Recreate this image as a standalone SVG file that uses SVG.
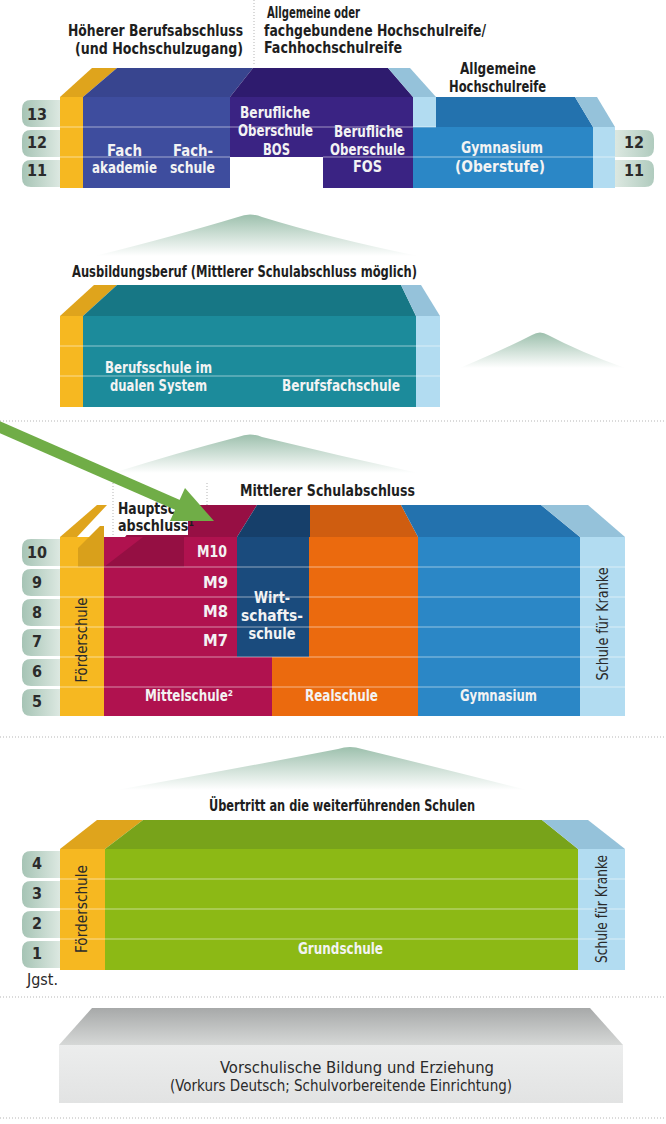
<svg xmlns="http://www.w3.org/2000/svg" width="666" height="1124" viewBox="0 0 666 1124">
<defs>
<linearGradient id="bl" x1="0" x2="1" y1="0" y2="0"><stop offset="0" stop-color="#a6c4b5"/><stop offset="1" stop-color="#dce8e1"/></linearGradient>
<linearGradient id="br" x1="0" x2="1" y1="0" y2="0"><stop offset="0" stop-color="#dce8e1"/><stop offset="1" stop-color="#b0cbbe"/></linearGradient>
<linearGradient id="mt" x1="0" x2="0" y1="0" y2="1"><stop offset="0" stop-color="#9dc0ad"/><stop offset="1" stop-color="#ffffff"/></linearGradient>
<linearGradient id="gt" x1="0" x2="0" y1="0" y2="1"><stop offset="0" stop-color="#a7a9a9"/><stop offset="1" stop-color="#d6d8d7"/></linearGradient>
<linearGradient id="gf" x1="0" x2="0" y1="0" y2="1"><stop offset="0" stop-color="#eceded"/><stop offset="1" stop-color="#e2e3e3"/></linearGradient>
<style>
.t{font-family:"DejaVu Sans Condensed","DejaVu Sans","Liberation Sans",sans-serif;font-stretch:condensed;font-weight:bold;font-size:15px;fill:#1e1e1e}
.w{font-family:"DejaVu Sans Condensed","DejaVu Sans","Liberation Sans",sans-serif;font-stretch:condensed;font-weight:bold;font-size:15px;fill:#f3f3f3}
.r{font-family:"DejaVu Sans Condensed","DejaVu Sans","Liberation Sans",sans-serif;font-stretch:condensed;font-size:15px;fill:#2a2a2a}
.n{font-family:"DejaVu Sans Condensed","DejaVu Sans","Liberation Sans",sans-serif;font-stretch:condensed;font-weight:bold;font-size:16px;fill:#2b2b2b;text-anchor:middle}
.rl{stroke:#ffffff;stroke-opacity:0.35;stroke-width:1.5;fill:none}
.dot{stroke:#b5b5b5;stroke-width:1;stroke-dasharray:1 2;fill:none}
.ye{fill:#f6b821}.yt{fill:#dfa41c}
.fb{fill:#3e4d9e}.fbt{fill:#38458f}
.pu{fill:#3a2383}.put{fill:#2e1b6e}
.lb{fill:#b2dcf1}.lbt{fill:#95c2da}
.gy{fill:#2b87c6}.gyt{fill:#2372ae}
.te{fill:#1c8b9b}.tet{fill:#177785}
.cr{fill:#b0124f}.crt{fill:#970f44}
.wb{fill:#1a4b7d}.wbt{fill:#163f6a}
.or{fill:#eb6a0e}.ort{fill:#cf5d10}
.gr{fill:#8cb915}.grt{fill:#78a31a}
.bL{fill:url(#bl)}.bR{fill:url(#br)}
.m{fill:url(#mt)}
</style>
</defs>
<rect width="666" height="1124" fill="#ffffff"/>

<g id="separators">
<line class="dot" x1="254" y1="0" x2="254" y2="66"/>
<line class="dot" x1="0" y1="421" x2="666" y2="421"/>
<line class="dot" x1="0" y1="737" x2="666" y2="737"/>
<line class="dot" x1="0" y1="997" x2="666" y2="997"/>
<line class="dot" x1="0" y1="1118" x2="666" y2="1118"/>
</g>

<g id="top-titles">
<text class="t" x="68" y="36" textLength="175" lengthAdjust="spacingAndGlyphs">Höherer Berufsabschluss</text>
<text class="t" x="75" y="54" textLength="168" lengthAdjust="spacingAndGlyphs">(und Hochschulzugang)</text>
<text class="t" x="267" y="18" textLength="93" lengthAdjust="spacingAndGlyphs">Allgemeine oder</text>
<text class="t" x="264" y="36" textLength="222" lengthAdjust="spacingAndGlyphs">fachgebundene Hochschulreife/</text>
<text class="t" x="264" y="53" textLength="138" lengthAdjust="spacingAndGlyphs">Fachhochschulreife</text>
<text class="t" x="460" y="74" textLength="76" lengthAdjust="spacingAndGlyphs">Allgemeine</text>
<text class="t" x="449" y="92" textLength="97" lengthAdjust="spacingAndGlyphs">Hochschulreife</text>
</g>

<g id="sek2-block">
<polygon class="yt" points="60,97 83,97 117,68 92,68"/>
<rect class="ye" x="60" y="97" width="23" height="91"/>
<polygon class="fbt" points="83,97 230,97 253,68 117,68"/>
<rect class="fb" x="83" y="97" width="147" height="91"/>
<polygon class="put" points="230,97 413,97 388,68 253,68"/>
<rect class="pu" x="230" y="97" width="183" height="60"/>
<rect class="pu" x="323" y="157" width="90" height="31"/>
<polygon class="lbt" points="388,68 410,68 436,97 413,97"/>
<rect class="lb" x="413" y="97" width="23" height="30"/>
<polygon class="gyt" points="436,97 575,97 593,127 436,127"/>
<rect class="gy" x="413" y="127" width="180" height="61"/>
<polygon class="lbt" points="575,97 597,97 615,127 593,127"/>
<rect class="lb" x="593" y="127" width="22" height="61"/>
<line class="rl" x1="60" y1="127" x2="436" y2="127"/>
<line class="rl" x1="60" y1="157" x2="230" y2="157"/>
<line class="rl" x1="323" y1="157" x2="615" y2="157"/>
<text class="w" x="107" y="156" textLength="35" lengthAdjust="spacingAndGlyphs">Fach</text>
<text class="w" x="92" y="173" textLength="65" lengthAdjust="spacingAndGlyphs">akademie</text>
<text class="w" x="173" y="156" textLength="40" lengthAdjust="spacingAndGlyphs">Fach-</text>
<text class="w" x="170" y="173" textLength="45" lengthAdjust="spacingAndGlyphs">schule</text>
<text class="w" x="240" y="118" textLength="70" lengthAdjust="spacingAndGlyphs">Berufliche</text>
<text class="w" x="238" y="136" textLength="75" lengthAdjust="spacingAndGlyphs">Oberschule</text>
<text class="w" x="263" y="155" textLength="27" lengthAdjust="spacingAndGlyphs">BOS</text>
<text class="w" x="334" y="137" textLength="69" lengthAdjust="spacingAndGlyphs">Berufliche</text>
<text class="w" x="330" y="155" textLength="75" lengthAdjust="spacingAndGlyphs">Oberschule</text>
<text class="w" x="353" y="172" textLength="29" lengthAdjust="spacingAndGlyphs">FOS</text>
<text class="w" x="461" y="153" textLength="82" lengthAdjust="spacingAndGlyphs">Gymnasium</text>
<text class="w" x="455" y="172" textLength="90" lengthAdjust="spacingAndGlyphs">(Oberstufe)</text>
</g>

<g id="badges-top">
<path class="bL" d="M60,100 H31 Q22,100 22,109 V118 Q22,127 31,127 H60 Z"/>
<path class="bL" d="M60,130 H31 Q22,130 22,139 V148 Q22,157 31,157 H60 Z"/>
<path class="bL" d="M60,160 H31 Q22,160 22,169 V178 Q22,187 31,187 H60 Z"/>
<text class="n" x="37" y="120">13</text>
<text class="n" x="37" y="148">12</text>
<text class="n" x="37" y="176">11</text>
<path class="bR" d="M615,130 H645 Q654,130 654,139 V148 Q654,157 645,157 H615 Z"/>
<path class="bR" d="M615,160 H645 Q654,160 654,169 V178 Q654,187 645,187 H615 Z"/>
<text class="n" x="634" y="148">12</text>
<text class="n" x="634" y="176">11</text>
</g>

<g id="ausbildung">
<path class="m" d="M95,256 Q175,236 238,217 Q250,212 262,217 Q330,238 418,256 Z"/>
<text class="t" x="72" y="277" textLength="345" lengthAdjust="spacingAndGlyphs">Ausbildungsberuf (Mittlerer Schulabschluss möglich)</text>
<polygon class="yt" points="60,316 83,316 117,285 94,285"/>
<rect class="ye" x="60" y="316" width="23" height="91"/>
<polygon class="tet" points="83,316 416,316 401,285 117,285"/>
<rect class="te" x="83" y="316" width="333" height="91"/>
<polygon class="lbt" points="401,285 421,285 440,316 416,316"/>
<rect class="lb" x="416" y="316" width="24" height="91"/>
<line class="rl" x1="60" y1="346" x2="440" y2="346"/>
<line class="rl" x1="60" y1="376" x2="440" y2="376"/>
<text class="w" x="105" y="373" textLength="107" lengthAdjust="spacingAndGlyphs">Berufsschule im</text>
<text class="w" x="110" y="391" textLength="97" lengthAdjust="spacingAndGlyphs">dualen System</text>
<text class="w" x="282" y="391" textLength="118" lengthAdjust="spacingAndGlyphs">Berufsfachschule</text>
<path class="m" d="M460,368 Q505,349 532,335 Q540,330 548,335 Q580,352 625,368 Z"/>
</g>

<g id="sek1-block">
<path class="m" d="M113,473 Q180,452 238,437 Q250,432 262,437 Q340,456 418,473 Z"/>
<text class="t" x="240" y="496" textLength="175" lengthAdjust="spacingAndGlyphs">Mittlerer Schulabschluss</text>
<polygon class="yt" points="60,537 77,537 107,505 97,505"/>
<rect class="ye" x="60" y="537" width="44" height="179"/>
<polygon fill="#d9a01b" points="78,567 78,548 100,526 104,526 104,567"/>
<polygon class="crt" points="125,537 237,537 257,505 150,505"/>
<rect class="cr" x="104" y="537" width="133" height="120"/>
<rect class="cr" x="104" y="657" width="168" height="59"/>
<polygon fill="#950f43" points="104,567 143,537 184,537 184,567"/>
<polygon class="wbt" points="257,505 310,505 310,537 237,537"/>
<rect class="wb" x="237" y="537" width="72" height="120"/>
<polygon class="ort" points="310,505 401,505 418,537 310,537"/>
<polygon class="or" points="309,537 418,537 418,716 272,716 272,657 309,657"/>
<polygon class="gyt" points="401,505 541,505 580,537 418,537"/>
<rect class="gy" x="418" y="537" width="162" height="179"/>
<polygon class="lbt" points="541,505 588,505 625,537 580,537"/>
<rect class="lb" x="580" y="537" width="45" height="179"/>
<line class="rl" x1="60" y1="567" x2="625" y2="567"/>
<line class="rl" x1="60" y1="597" x2="625" y2="597"/>
<line class="rl" x1="60" y1="627" x2="625" y2="627"/>
<line class="rl" x1="60" y1="657" x2="625" y2="657"/>
<line class="rl" x1="60" y1="687" x2="625" y2="687"/>
<rect x="113" y="483" width="75" height="52" fill="#ffffff"/>
<line class="dot" x1="113" y1="483" x2="113" y2="535"/>
<line class="dot" x1="207" y1="483" x2="207" y2="505"/>
<text class="t" x="118" y="514" textLength="84" lengthAdjust="spacingAndGlyphs">Hauptschul-</text>
<text class="t" x="118" y="531" textLength="76" lengthAdjust="spacingAndGlyphs">abschluss¹</text>
<text class="w" x="197" y="557" textLength="30" lengthAdjust="spacingAndGlyphs">M10</text>
<text class="w" x="203" y="588" textLength="25" lengthAdjust="spacingAndGlyphs">M9</text>
<text class="w" x="203" y="617" textLength="25" lengthAdjust="spacingAndGlyphs">M8</text>
<text class="w" x="203" y="646" textLength="25" lengthAdjust="spacingAndGlyphs">M7</text>
<text class="w" x="272" y="603" text-anchor="middle" textLength="36" lengthAdjust="spacingAndGlyphs">Wirt-</text>
<text class="w" x="272" y="621" text-anchor="middle" textLength="62" lengthAdjust="spacingAndGlyphs">schafts-</text>
<text class="w" x="272" y="639" text-anchor="middle" textLength="47" lengthAdjust="spacingAndGlyphs">schule</text>
<text class="w" x="145" y="701" textLength="88" lengthAdjust="spacingAndGlyphs">Mittelschule²</text>
<text class="w" x="305" y="701" textLength="73" lengthAdjust="spacingAndGlyphs">Realschule</text>
<text class="w" x="460" y="701" textLength="77" lengthAdjust="spacingAndGlyphs">Gymnasium</text>
<text class="r" transform="translate(87,640) rotate(-90)" text-anchor="middle" textLength="85" lengthAdjust="spacingAndGlyphs">Förderschule</text>
<text class="r" transform="translate(608,624) rotate(-90)" text-anchor="middle" textLength="113" lengthAdjust="spacingAndGlyphs">Schule für Kranke</text>
</g>

<g id="badges-sek1">
<path class="bL" d="M60,539 H31 Q22,539 22,548 V557 Q22,566 31,566 H60 Z"/>
<path class="bL" d="M60,569 H31 Q22,569 22,578 V587 Q22,596 31,596 H60 Z"/>
<path class="bL" d="M60,599 H31 Q22,599 22,608 V617 Q22,626 31,626 H60 Z"/>
<path class="bL" d="M60,629 H31 Q22,629 22,638 V647 Q22,656 31,656 H60 Z"/>
<path class="bL" d="M60,659 H31 Q22,659 22,668 V677 Q22,686 31,686 H60 Z"/>
<path class="bL" d="M60,689 H31 Q22,689 22,698 V707 Q22,716 31,716 H60 Z"/>
<text class="n" x="37" y="558">10</text>
<text class="n" x="37" y="588">9</text>
<text class="n" x="37" y="618">8</text>
<text class="n" x="37" y="647">7</text>
<text class="n" x="37" y="677">6</text>
<text class="n" x="37" y="707">5</text>
</g>

<g id="grundschule">
<path class="m" d="M117,790 Q240,768 338,749 Q350,745 362,749 Q440,768 527,790 Z"/>
<text class="t" x="209" y="811" textLength="266" lengthAdjust="spacingAndGlyphs">Übertritt an die weiterführenden Schulen</text>
<polygon class="yt" points="60,849 105,849 143,820 97,820"/>
<rect class="ye" x="60" y="849" width="45" height="121"/>
<polygon class="grt" points="105,849 578,849 542,820 143,820"/>
<rect class="gr" x="105" y="849" width="473" height="121"/>
<polygon class="lbt" points="542,820 588,820 625,849 578,849"/>
<rect class="lb" x="578" y="849" width="47" height="121"/>
<line class="rl" x1="60" y1="879" x2="625" y2="879"/>
<line class="rl" x1="60" y1="909" x2="625" y2="909"/>
<line class="rl" x1="60" y1="939" x2="625" y2="939"/>
<text class="w" x="298" y="954" textLength="85" lengthAdjust="spacingAndGlyphs">Grundschule</text>
<text class="r" transform="translate(87,909) rotate(-90)" text-anchor="middle" textLength="88" lengthAdjust="spacingAndGlyphs">Förderschule</text>
<text class="r" transform="translate(607,909) rotate(-90)" text-anchor="middle" textLength="108" lengthAdjust="spacingAndGlyphs">Schule für Kranke</text>
</g>

<g id="badges-grund">
<path class="bL" d="M60,851 H31 Q22,851 22,860 V869 Q22,878 31,878 H60 Z"/>
<path class="bL" d="M60,881 H31 Q22,881 22,890 V899 Q22,908 31,908 H60 Z"/>
<path class="bL" d="M60,911 H31 Q22,911 22,920 V929 Q22,938 31,938 H60 Z"/>
<path class="bL" d="M60,941 H31 Q22,941 22,950 V959 Q22,968 31,968 H60 Z"/>
<text class="n" x="37" y="869">4</text>
<text class="n" x="37" y="899">3</text>
<text class="n" x="37" y="929">2</text>
<text class="n" x="37" y="959">1</text>
<text class="r" x="27" y="985" textLength="31" lengthAdjust="spacingAndGlyphs">Jgst.</text>
</g>

<g id="vorschule">
<polygon fill="url(#gt)" points="92,1008 590,1008 623,1045 59,1045"/>
<rect fill="url(#gf)" x="59" y="1045" width="564" height="58"/>
<text class="r" x="357" y="1073" text-anchor="middle" textLength="274" lengthAdjust="spacingAndGlyphs">Vorschulische Bildung und Erziehung</text>
<text class="r" x="341" y="1091" text-anchor="middle" textLength="342" lengthAdjust="spacingAndGlyphs">(Vorkurs Deutsch; Schulvorbereitende Einrichtung)</text>
</g>

<g id="connectors">
<line x1="-5" y1="425" x2="180" y2="506" stroke="#70ad47" stroke-width="11"/>
<polygon fill="#70ad47" points="214,521 170,521 185,488"/>
</g>
</svg>
